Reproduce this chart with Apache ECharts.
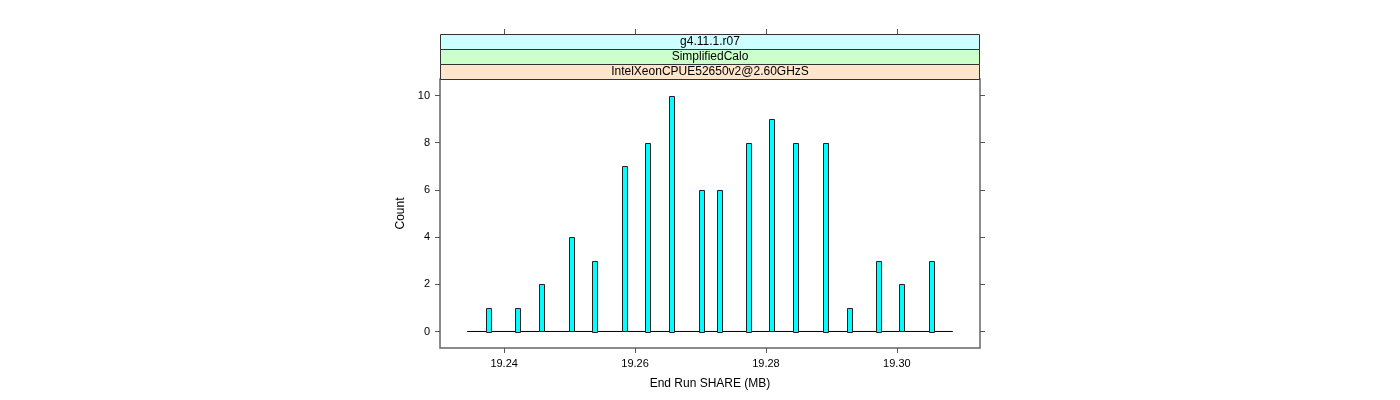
<!DOCTYPE html>
<html>
<head>
<meta charset="utf-8">
<script src="https://cdn.jsdelivr.net/npm/echarts@6/dist/echarts.min.js"></script>
<style>html,body{margin:0;padding:0;background:#fff;}#c{width:1400px;height:400px;}</style>
</head>
<body>
<div id="c"></div>
<script>
// Data
var binCenters = [19.23766, 19.24218, 19.24576, 19.25034, 19.25389, 19.25843, 19.26198, 19.26560, 19.27018,
                  19.27293, 19.27736, 19.28096, 19.28463, 19.28911, 19.29278, 19.29725, 19.30081, 19.30539];
var counts = [1, 1, 2, 4, 3, 7, 8, 10, 6, 6, 8, 9, 8, 8, 1, 3, 2, 3];
var barWidthMB = 0.00092;
var baselineRange = [19.23435, 19.30855];
var xTicks = [19.24, 19.26, 19.28, 19.30];
var yTicks = [0, 2, 4, 6, 8, 10];
var xRange = [19.2302, 19.3127];
var yRange = [-0.7, 10.7];
var stripLabels = ['g4.11.1.r07', 'SimplifiedCalo', 'IntelXeonCPUE52650v2@2.60GHzS'];
var stripColors = ['#ccffff', '#ccffcc', '#ffe5cc'];
var xTitle = 'End Run SHARE (MB)';
var yTitle = 'Count';

var FONT = '"Liberation Sans", Arial, Helvetica, sans-serif';
var chart = echarts.init(document.getElementById('c'), null, {renderer: 'canvas'});

var barData = binCenters.map(function (x, i) { return [x, counts[i]]; });

var graphics = [];
var stripTop = 34, stripH = 15;
stripLabels.forEach(function (lab, i) {
  graphics.push({
    type: 'rect',
    shape: {x: 440.5, y: stripTop + i * stripH + 0.5, width: 539, height: stripH},
    style: {fill: stripColors[i], stroke: '#333', lineWidth: 1},
    z: 10
  });
  graphics.push({
    type: 'text',
    x: 710, y: stripTop + i * stripH + stripH / 2 + 0.5,
    style: {text: lab, fill: '#000', font: '12px ' + FONT, align: 'center', verticalAlign: 'middle'},
    z: 11
  });
});

var tickLine = {color: '#555', width: 1};

chart.setOption({
  animation: false,
  backgroundColor: '#fff',
  grid: {left: 440, right: 420, top: 79, bottom: 52, show: true, borderColor: '#666', borderWidth: 1.5, backgroundColor: 'transparent'},
  graphic: graphics,
  xAxis: [{
    type: 'value', min: xRange[0], max: xRange[1], position: 'bottom',
    axisLine: {show: false, onZero: false},
    splitLine: {show: false},
    axisTick: {show: true, inside: false, length: 5, customValues: xTicks, lineStyle: tickLine},
    axisLabel: {show: true, customValues: xTicks, margin: 10, color: '#000', fontSize: 11, fontFamily: FONT,
      formatter: function (v) { return v.toFixed(2); }},
    name: xTitle, nameLocation: 'middle', nameGap: 30,
    nameTextStyle: {color: '#000', fontSize: 12, fontFamily: FONT}
  }, {
    type: 'value', min: xRange[0], max: xRange[1], position: 'top', offset: 45,
    axisLine: {show: false, onZero: false},
    splitLine: {show: false},
    axisTick: {show: true, inside: false, length: 5, customValues: xTicks, lineStyle: tickLine},
    axisLabel: {show: false}
  }],
  yAxis: [{
    type: 'value', min: yRange[0], max: yRange[1], position: 'left',
    axisLine: {show: false, onZero: false},
    splitLine: {show: false},
    axisTick: {show: true, inside: false, length: 5, customValues: yTicks, lineStyle: tickLine},
    axisLabel: {show: true, customValues: yTicks, margin: 10, color: '#000', fontSize: 11, fontFamily: FONT},
    name: yTitle, nameLocation: 'middle', nameGap: 33, nameRotate: 90,
    nameTextStyle: {color: '#000', fontSize: 12, fontFamily: FONT}
  }, {
    type: 'value', min: yRange[0], max: yRange[1], position: 'right',
    axisLine: {show: false, onZero: false},
    splitLine: {show: false},
    axisTick: {show: true, inside: false, length: 5, customValues: yTicks, lineStyle: tickLine},
    axisLabel: {show: false}
  }],
  series: [{
    type: 'line',
    xAxisIndex: 0, yAxisIndex: 0,
    data: [[baselineRange[0], 0], [baselineRange[1], 0]],
    showSymbol: false, symbol: 'none',
    lineStyle: {color: '#000', width: 1},
    z: 1
  }, {
    type: 'custom',
    xAxisIndex: 0, yAxisIndex: 0,
    data: barData,
    renderItem: function (params, api) {
      var x = api.value(0), y = api.value(1);
      var p1 = api.coord([x - barWidthMB / 2, y]);
      var p2 = api.coord([x + barWidthMB / 2, 0]);
      return {
        type: 'rect',
        shape: {x: Math.round(p1[0]) + 0.5, y: Math.round(p1[1]) + 0.5, width: Math.round(p2[0] - p1[0]) - 1, height: Math.round(p2[1] - p1[1])},
        style: {fill: '#00ffff', stroke: '#222', lineWidth: 1}
      };
    },
    z: 2
  }]
});
</script>
</body>
</html>
